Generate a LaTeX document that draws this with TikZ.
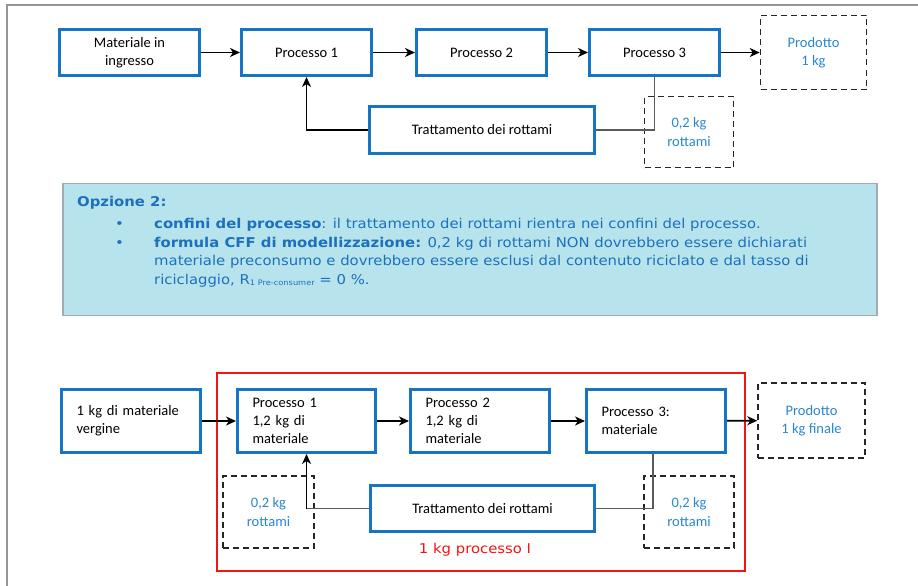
\documentclass[tikz,border=0pt]{standalone}
\usepackage{fontspec}
\setmainfont{Carlito}
\newfontfamily\verd[FakeStretch=1.1]{DejaVu Sans}
\usetikzlibrary{arrows.meta}
\definecolor{boxblue}{RGB}{22,116,196}
\definecolor{txtblue}{RGB}{40,135,205}
\definecolor{infofill}{RGB}{183,228,236}
\definecolor{infoborder}{RGB}{160,172,178}
\definecolor{infotext}{RGB}{28,112,190}
\definecolor{framegray}{RGB}{150,150,150}
\definecolor{linkgray}{RGB}{90,90,90}
\definecolor{redframe}{RGB}{240,20,20}
\tikzset{
  pbox/.style={draw=boxblue, line width=3pt, fill=white, inner sep=0pt,
    font=\fontsize{14.5}{18}\selectfont, align=center},
  pleft/.style={pbox, align=left, inner xsep=15pt},
  dbox/.style={draw=black!85, line width=1.5pt, dashed, dash pattern=on 6pt off 4pt,
    inner sep=0pt, text=txtblue, font=\fontsize{14.5}{18.5}\selectfont, align=center},
  flow/.style={line width=1.6pt, -{Stealth[length=10pt,width=9pt,inset=3pt]}},
  link/.style={line width=1.1pt, draw=linkgray},
  infotxt/.style={anchor=base west, inner sep=0pt, text=infotext,
    font=\verd\fontsize{13.5}{16}\selectfont},
}
\begin{document}
\begin{tikzpicture}[x=1pt,y=-1pt]
\useasboundingbox (0,0) rectangle (918,586);
% page frame (left and top edges)
\draw[framegray, line width=1.3pt] (7,586) -- (7,5) -- (918,5);

% ---------- upper flow ----------
\node[pbox, minimum width=140, minimum height=46] (mat) at (129.5,52.5) {Materiale in\\ingresso};
\node[pbox, minimum width=130, minimum height=46] (p1) at (306.5,52.5) {Processo 1};
\node[pbox, minimum width=130, minimum height=46] (p2) at (481.5,52.5) {Processo 2};
\node[pbox, minimum width=130, minimum height=46] (p3) at (654.5,52.5) {Processo 3};
\node[dbox, minimum width=106, minimum height=74] (prod) at (813.5,52.5) {Prodotto\\1 kg};
\node[pbox, minimum width=225, minimum height=47] (tr) at (482,130) {Trattamento dei rottami};
\node[dbox, minimum width=89, minimum height=71] (scr) at (689,132) {0,2 kg\\rottami};

\draw[flow] (mat) -- (p1);
\draw[flow] (p1) -- (p2);
\draw[flow] (p2) -- (p3);
\draw[flow] (p3) -- (prod);
\draw[link] (p3.south) |- (tr.east);
\draw[flow] (tr.west) -| (p1.south);

% ---------- option box ----------
\node[draw=infoborder, fill=infofill, line width=1.2pt, minimum width=814, minimum height=132,
  inner sep=0pt] (info) at (470,249.5) {};
\node[infotxt] (opt) at (77,206) {\bfseries Opzione 2:};
\node[infotxt] (b1) at (115,228.5) {•};
\node[infotxt] (l1) at (154,228.5) {\textbf{confini del processo}: il trattamento dei rottami rientra nei confini del processo.};
\node[infotxt] (b2) at (115,247) {•};
\node[infotxt] (l2) at (154,247) {\textbf{formula CFF di modellizzazione:} 0,2 kg di rottami NON dovrebbero essere dichiarati};
\node[infotxt] (l3) at (154,265.5) {materiale preconsumo e dovrebbero essere esclusi dal contenuto riciclato e dal tasso di};
\node[infotxt] (l4) at (154,284) {riciclaggio, R\raisebox{-1.5pt}{\fontsize{7.5}{8}\selectfont 1 Pre-consumer} = 0 \%.};

% ---------- lower flow ----------
\draw[redframe, line width=2pt] (217,373) rectangle (745,571);
\node[text=redframe, font=\verd\fontsize{13.5}{15}\selectfont] (lbl) at (475,550) {1 kg processo I};

\node[pleft, minimum width=139, text width=109, minimum height=63] (verg) at (131,421) {1 kg di materiale\\vergine};
\node[pleft, minimum width=138, text width=108, minimum height=63] (q1) at (306.5,421) {Processo 1\\1,2 kg di\\materiale};
\node[pleft, minimum width=139, text width=109, minimum height=63] (q2) at (480,421) {Processo 2\\1,2 kg di\\materiale};
\node[pleft, minimum width=139, text width=109, minimum height=63] (q3) at (656,421) {Processo 3:\\materiale};
\node[dbox, minimum width=107, minimum height=75] (prod2) at (811.5,420.5) {Prodotto\\1 kg finale};
\node[pbox, minimum width=224, minimum height=46] (tr2) at (482.5,508.5) {Trattamento dei rottami};
\node[dbox, minimum width=91, minimum height=72] (scrL) at (268.5,512) {0,2 kg\\rottami};
\node[dbox, minimum width=90, minimum height=72] (scrR) at (689,512) {0,2 kg\\rottami};

\draw[flow] (verg) -- (q1);
\draw[flow] (q1) -- (q2);
\draw[flow] (q2) -- (q3);
\draw[flow] (q3) -- (prod2);
\draw[link] ([xshift=-3pt]q3.south) |- (tr2.east);
\coordinate (turn) at (q1.south |- tr2.west);
\draw[link] (tr2.west) -- (turn);
\draw[flow] (turn) -- (q1.south);
\end{tikzpicture}
\end{document}
